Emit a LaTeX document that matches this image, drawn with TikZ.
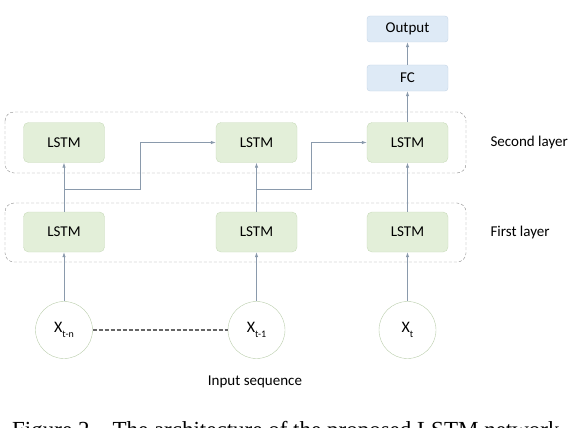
\documentclass[tikz,border=0pt]{standalone}
\usepackage{fontspec}
\setmainfont{Carlito}
\newfontfamily\capfont{Liberation Serif}
\usetikzlibrary{arrows.meta}

\definecolor{cellfill}{HTML}{E3EFD9}
\definecolor{cellline}{HTML}{C9DBBB}
\definecolor{headfill}{HTML}{DEEAF6}
\definecolor{headline}{HTML}{C3D3E6}
\definecolor{circline}{HTML}{B9CDAA}
\definecolor{linkcol}{HTML}{8A9AAC}

\newcommand{\xsub}[2]{#1\raisebox{-0.55ex}{\fontsize{10}{10}\selectfont #2}}

\begin{document}
\begin{tikzpicture}[x=1pt, y=-1pt,
  cell/.style={draw=cellline, fill=cellfill, rounded corners=5pt,
    minimum width=81pt, minimum height=40pt, font=\fontsize{15}{17}\selectfont},
  head/.style={draw=headline, fill=headfill, rounded corners=3pt,
    minimum width=81pt, minimum height=26pt, font=\fontsize{15}{17}\selectfont},
  layer/.style={draw=black!45, dash pattern=on 3pt off 2pt, rounded corners=9pt},
  input/.style={circle, draw=circline, minimum size=57pt, inner sep=0pt,
    font=\fontsize{16}{17}\selectfont},
  link/.style={draw=linkcol, line width=0.7pt, -{Latex[length=5pt,width=3.5pt]}},
  tag/.style={anchor=west, font=\fontsize{15}{17}\selectfont}]

  \useasboundingbox (0,0) rectangle (570,428);

  % Layer frames
  \draw [layer] (5,112) rectangle (466,173);
  \draw [layer] (5,203) rectangle (466,262);

  % LSTM cells of both layers
  \foreach \n/\x in {1/64, 2/256.5, 3/407.5}{
    \node [cell] (a\n) at (\x,232) {LSTM};
    \node [cell] (b\n) at (\x,142.5) {LSTM};
  }

  % Head of the network
  \node [head] (fc) at (407.5,78) {FC};
  \node [head] (out) at (407.5,29) {Output};

  % Input sequence
  \node [input] (x1) at (64,330) {\xsub{X}{t-n}};
  \node [input] (x2) at (256.5,330) {\xsub{X}{t-1}};
  \node [input] (x3) at (407.5,330) {\xsub{X}{t}};
  \draw [black!60, dash pattern=on 4pt off 2pt, line width=1.4pt] (x1) -- (x2);

  % Upward links
  \foreach \n in {1,2,3}{
    \draw [link] (x\n) -- (a\n);
    \draw [link] (a\n) -- (b\n);
  }
  \draw [link] (b3) -- (fc);
  \draw [link] (fc) -- (out);

  % Links to the next cell of the second layer
  \coordinate (j1) at (64,189.3);
  \coordinate (j2) at (256.5,189.3);
  \draw [link] (j1) -- (140,189.3) |- (b2.west);
  \draw [link] (j2) -- (311.7,189.3) |- (b3.west);

  % Labels
  \node [tag] (second) at (487,142.5) {Second layer};
  \node [tag] (first) at (487,232) {First layer};
  \node [font=\fontsize{15}{17}\selectfont] (seq) at (255,381.7) {Input sequence};

  % Caption, cut by the frame
  \node [anchor=base west, font=\capfont\fontsize{23}{25}\selectfont, inner sep=0pt] (cap)
    at (12,437) {Figure 2 – The architecture of the proposed LSTM network};
\end{tikzpicture}
\end{document}
